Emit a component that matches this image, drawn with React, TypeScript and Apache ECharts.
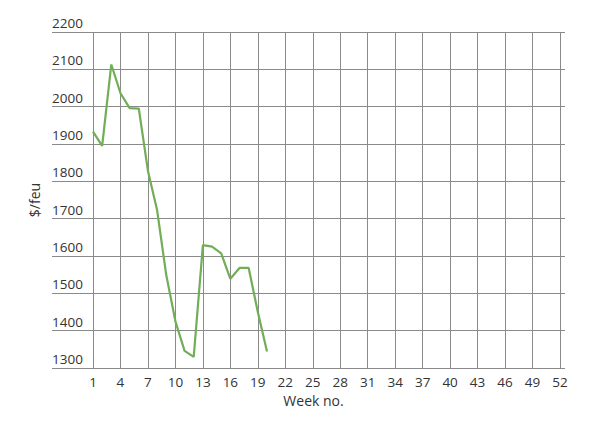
import React, { useEffect, useRef } from "react";
import * as echarts from "echarts";

const weeks: string[] = Array.from({ length: 52 }, (_, i) => String(i + 1));
const rates: number[] = [
  1933, 1895, 2113, 2036, 1996, 1995, 1828, 1723, 1549, 1425,
  1346, 1330, 1629, 1625, 1607, 1539, 1568, 1568, 1450, 1344,
];
const yMin = 1300;
const yMax = 2200;
const yStep = 100;

const FONT = "'Open Sans', 'Noto Sans', sans-serif";
const TEXT = "#333333";
const GRID = "#8a8a8a";

export default function App() {
  const ref = useRef<HTMLDivElement>(null);
  useEffect(() => {
    if (!ref.current) return;
    const chart = echarts.init(ref.current, null, { renderer: "svg" });
    chart.setOption({
      animation: false,
      backgroundColor: "#ffffff",
      grid: [
        { left: 52, right: 39, top: 32, bottom: 59 },
        { left: 93, right: 44, top: 32, bottom: 59 },
      ],
      xAxis: [
        {
          gridIndex: 0,
          type: "value",
          show: false,
        },
        {
          gridIndex: 1,
          type: "category",
          data: weeks,
          boundaryGap: false,
          axisLine: { show: false },
          axisTick: { show: false },
          axisLabel: {
            interval: 2,
            margin: 7,
            color: TEXT,
            fontFamily: FONT,
            fontSize: 13.5,
          },
          splitLine: {
            show: true,
            interval: 2,
            lineStyle: { color: GRID, width: 1 },
          },
          name: "Week no.",
          nameLocation: "middle",
          nameGap: 25,
          nameTextStyle: {
            color: TEXT,
            fontFamily: FONT,
            fontSize: 14,
            padding: [0, 26, 0, 0],
          },
        },
      ],
      yAxis: [
        {
          gridIndex: 0,
          type: "value",
          min: yMin,
          max: yMax,
          interval: yStep,
          axisLine: { show: false },
          axisTick: { show: false },
          axisLabel: {
            inside: true,
            margin: 0,
            align: "left",
            verticalAlign: "bottom",
            padding: [0, 0, 2, 0],
            color: TEXT,
            fontFamily: FONT,
            fontSize: 13.5,
            formatter: (v: number) => String(v),
          },
          splitLine: { show: true, lineStyle: { color: GRID, width: 1 } },
          name: "$/feu",
          nameLocation: "middle",
          nameGap: 1,
          nameRotate: 90,
          nameTextStyle: {
            color: TEXT,
            fontFamily: FONT,
            fontSize: 14,
          },
        },
        {
          gridIndex: 1,
          type: "value",
          min: yMin,
          max: yMax,
          interval: yStep,
          show: false,
          splitLine: { show: false },
        },
      ],
      series: [
        {
          type: "line",
          xAxisIndex: 1,
          yAxisIndex: 1,
          data: rates,
          symbol: "none",
          lineStyle: { color: "#72ad57", width: 2.2 },
        },
      ],
    });
    return () => chart.dispose();
  }, []);
  return <div ref={ref} style={{ width: 604, height: 427, margin: -8 }} />;
}
